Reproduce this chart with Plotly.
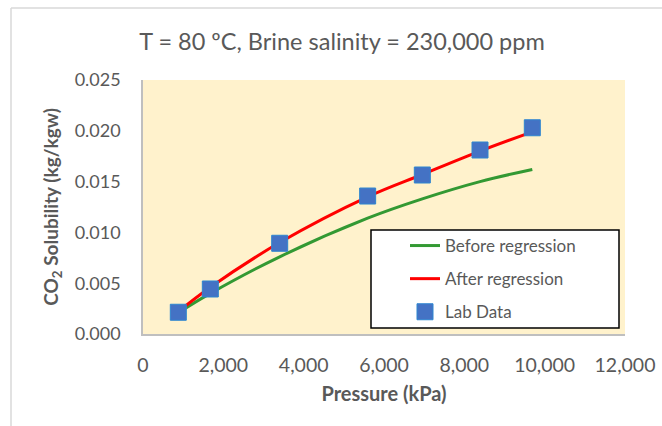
import plotly.graph_objects as go

# Data
pressure_kpa = [879, 1676, 3403, 5593, 6954, 8390, 9692]
before_regression = [0.0021, 0.0040, 0.0076, 0.0114, 0.0133, 0.0150, 0.0162]
after_regression = [0.0022, 0.0046, 0.0090, 0.0135, 0.0157, 0.0180, 0.0199]
lab_data = [0.00214, 0.00443, 0.00893, 0.01358, 0.01565, 0.01811, 0.0203]

y_ticks = [0.0, 0.005, 0.010, 0.015, 0.020, 0.025]
x_ticks = [0, 2000, 4000, 6000, 8000, 10000, 12000]

W, H = 662, 426
L, R, T, B = 143, 625, 80, 334

def px_x(p):
    return (p - L) / (R - L)

def px_y(p):
    return 1 - (p - T) / (B - T)

txt = "#595959"
font_family = "Lato, 'Open Sans', sans-serif"

fig = go.Figure()
fig.add_trace(go.Scatter(x=pressure_kpa, y=before_regression, mode="lines",
                         name="Before regression", line=dict(color="#339933", width=3, shape="spline"),
                         legendgroup="a"))
fig.add_trace(go.Scatter(x=pressure_kpa, y=after_regression, mode="lines",
                         name="After regression", line=dict(color="#ff0000", width=3, shape="spline"),
                         legendgroup="b"))
fig.add_trace(go.Scatter(x=pressure_kpa, y=lab_data, mode="markers", name="Lab Data",
                         marker=dict(symbol="square", size=16, color="#4472c4",
                                     line=dict(color="#2e86d0", width=1)),
                         legendgroup="c"))

fig.update_layout(
    width=W, height=H,
    margin=dict(l=L, r=W - R, t=T, b=H - B, autoexpand=False),
    paper_bgcolor="white",
    plot_bgcolor="#fff2cc",
    font=dict(family=font_family, color=txt, size=17),
    title=dict(text="T = 80 ºC, Brine salinity = 230,000 ppm", x=342 / W, xanchor="center",
               y=1 - 42 / H, yanchor="middle", font=dict(size=23.5, color=txt)),
    showlegend=True,
    legend=dict(x=px_x(405), y=px_y(228), xanchor="left", yanchor="top",
                bgcolor="rgba(0,0,0,0)", borderwidth=0, traceorder="grouped",
                tracegroupgap=8, font=dict(size=17, color=txt)),
    xaxis=dict(range=[0, 12000], tickvals=x_ticks, tickformat=",", showgrid=False, zeroline=False,
               showline=True, linecolor="#bfbfbf", linewidth=1.5, ticks="", automargin=False,
               ticklabelstandoff=13, tickfont=dict(size=19.5),
               title=dict(text="<b>Pressure (kPa)</b>", font=dict(size=20, color=txt), standoff=12)),
    yaxis=dict(range=[0, 0.025], tickvals=y_ticks, tickformat=".3f", showgrid=False, zeroline=False,
               showline=True, linecolor="#bfbfbf", linewidth=1.5, ticks="", automargin=False,
               ticklabelstandoff=17, tickfont=dict(size=18),
               title=dict(text="<b>CO<sub>2</sub> Solubility (kg/kgw)</b>", font=dict(size=19, color=txt),
                          standoff=11)),
    shapes=[
        dict(type="rect", xref="paper", yref="paper", x0=px_x(371), x1=px_x(619), y0=px_y(328), y1=px_y(230),
             line=dict(color="black", width=1.5), fillcolor="white", layer="below"),
        dict(type="line", xref="paper", yref="paper", x0=px_x(11), x1=px_x(11), y0=px_y(8), y1=px_y(430),
             line=dict(color="#d9d9d9", width=1.5)),
        dict(type="line", xref="paper", yref="paper", x0=px_x(11), x1=px_x(670), y0=px_y(8), y1=px_y(8),
             line=dict(color="#d9d9d9", width=1.5)),
    ],
)

fig.write_html("out.html")
